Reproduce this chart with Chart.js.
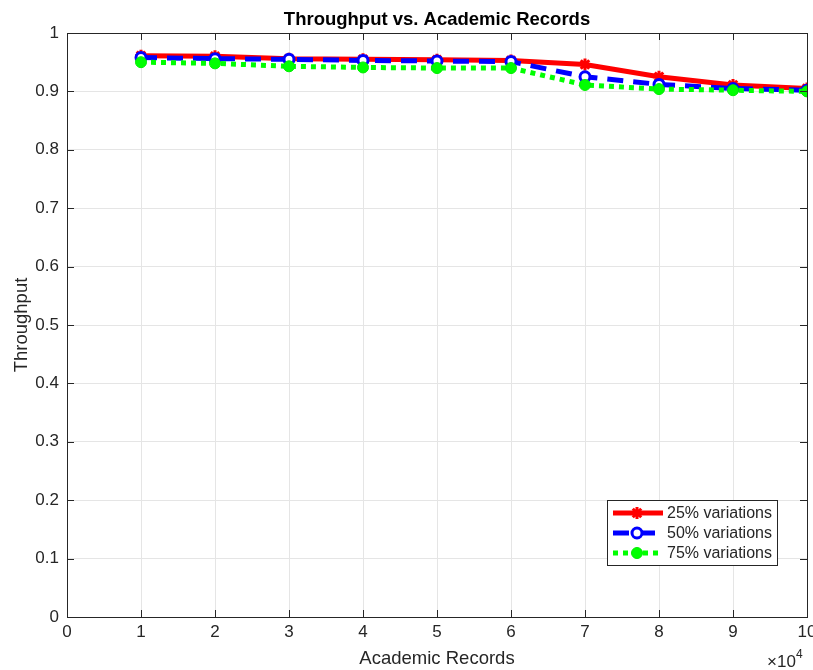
<!DOCTYPE html>
<html><head><meta charset="utf-8">
<script src="https://cdn.jsdelivr.net/npm/chart.js@4/dist/chart.umd.min.js"></script>
<style>html,body{margin:0;padding:0;background:#fff;overflow:hidden;}#wrap{width:813px;height:670px;position:relative;overflow:hidden;}</style>
</head><body><div id="wrap"><canvas id="c" width="816" height="670"></canvas></div>
<script>
const records = [1, 2, 3, 4, 5, 6, 7, 8, 9, 10];
const var25 = [0.961, 0.960, 0.956, 0.955, 0.954, 0.953, 0.946, 0.925, 0.911, 0.905];
const var50 = [0.958, 0.956, 0.955, 0.953, 0.952, 0.951, 0.925, 0.912, 0.905, 0.902];
const var75 = [0.950, 0.948, 0.943, 0.941, 0.940, 0.940, 0.911, 0.904, 0.902, 0.900];
const seriesNames = ['25% variations', '50% variations', '75% variations'];
const titleText = 'Throughput vs. Academic Records';
const xTitle = 'Academic Records';
const yTitle = 'Throughput';

const FONT = '"Liberation Sans", Arial, Helvetica, sans-serif';
const TXT = '#262626';

function pts(vals){ return records.map((x,i)=>({x:x, y:vals[i]})); }

const datasets = [
  {label: seriesNames[0], data: pts(var25), borderColor:'#ff0000', backgroundColor:'#ff0000', borderWidth:5,
   pointStyle:'star', pointRadius:6, pointBorderWidth:3, pointBorderColor:'#ff0000', pointBackgroundColor:'#ff0000', order:3},
  {label: seriesNames[1], data: pts(var50), borderColor:'#0000ff', backgroundColor:'#ffffff', borderWidth:5, borderDash:[16,10],
   pointStyle:'circle', pointRadius:5, pointBorderWidth:3, pointBorderColor:'#0000ff', pointBackgroundColor:'#ffffff', order:2},
  {label: seriesNames[2], data: pts(var75), borderColor:'#00ff00', backgroundColor:'#00ff00', borderWidth:5, borderDash:[5,5],
   pointStyle:'circle', pointRadius:5.5, pointBorderWidth:1, pointBorderColor:'#00ee00', pointBackgroundColor:'#00ff00', order:1}
];

function drawStar(ctx, x, y, r){
  ctx.beginPath();
  for (let k=0;k<4;k++){ const ang = k*Math.PI/4;
    ctx.moveTo(x - r*Math.cos(ang), y - r*Math.sin(ang));
    ctx.lineTo(x + r*Math.cos(ang), y + r*Math.sin(ang)); }
  ctx.stroke();
}

const deco = {
  id:'deco',
  afterDraw(chart){
    const ctx = chart.ctx, a = chart.chartArea;
    ctx.save();
    ctx.strokeStyle = '#262626'; ctx.lineWidth = 1; ctx.setLineDash([]);
    ctx.strokeRect(a.left+0.5, a.top+0.5, a.right-a.left, a.bottom-a.top);
    const xs = chart.scales.x, ys = chart.scales.y;
    ctx.beginPath();
    for (let v=0; v<=10; v++){ const px = Math.round(xs.getPixelForValue(v))+0.5;
      ctx.moveTo(px, a.bottom); ctx.lineTo(px, a.bottom-7); ctx.moveTo(px, a.top); ctx.lineTo(px, a.top+7); }
    for (let v=0; v<=10; v++){ const py = Math.round(ys.getPixelForValue(v/10))+0.5;
      ctx.moveTo(a.left, py); ctx.lineTo(a.left+7, py); ctx.moveTo(a.right, py); ctx.lineTo(a.right-7, py); }
    ctx.stroke();
    ctx.fillStyle = '#000'; ctx.font = 'bold 18.5px ' + FONT; ctx.textAlign='center'; ctx.textBaseline='middle';
    ctx.fillText(titleText, (a.left+a.right)/2, 20);
    ctx.fillStyle = TXT; ctx.font = '17px ' + FONT; ctx.textAlign='left'; ctx.textBaseline='alphabetic';
    ctx.fillText('\u00d710', 767, 667);
    ctx.font = '12px ' + FONT; ctx.fillText('4', 796, 658);
    const lx = 607, ly = 500, lw = 170, lh = 65;
    ctx.fillStyle = '#fff'; ctx.fillRect(lx, ly, lw, lh);
    ctx.strokeStyle = '#262626'; ctx.lineWidth = 1; ctx.strokeRect(lx+0.5, ly+0.5, lw, lh);
    chart.data.datasets.forEach((ds, i) => {
      const y = ly + 13 + i*20;
      ctx.strokeStyle = ds.borderColor; ctx.lineWidth = ds.borderWidth;
      ctx.setLineDash(ds.borderDash || []);
      ctx.beginPath(); ctx.moveTo(lx+6, y); ctx.lineTo(lx+56, y); ctx.stroke();
      ctx.setLineDash([]);
      ctx.fillStyle = ds.pointBackgroundColor; ctx.strokeStyle = ds.pointBorderColor; ctx.lineWidth = ds.pointBorderWidth;
      if (ds.pointStyle === 'circle') { ctx.beginPath(); ctx.arc(lx+30, y, ds.pointRadius, 0, Math.PI*2); ctx.fill(); ctx.stroke(); }
      else { drawStar(ctx, lx+30, y, ds.pointRadius); }
      ctx.fillStyle = TXT; ctx.font = '16px ' + FONT; ctx.textAlign='left'; ctx.textBaseline='middle';
      ctx.fillText(ds.label, lx+60, y+1);
    });
    ctx.restore();
  }
};

new Chart(document.getElementById('c'), {
  type:'line',
  data:{datasets},
  options:{
    responsive:false, animation:false, devicePixelRatio:1,
    layout:{padding:{left:0, right:0, top:33, bottom:0}},
    plugins:{legend:{display:false}, title:{display:false}, tooltip:{enabled:false}},
    elements:{line:{tension:0}},
    scales:{
      x:{type:'linear', min:0, max:10,
         ticks:{stepSize:1, color:TXT, font:{family:FONT, size:17}, padding:5, maxRotation:0, autoSkip:false},
         grid:{color:'#e5e5e5', drawTicks:false, lineWidth:1},
         border:{display:false},
         title:{display:true, text:xTitle, color:TXT, font:{family:FONT, size:18.5}, padding:{top:0, bottom:0}},
         afterFit(s){ s.height = 53; s.paddingLeft = 0; s.paddingRight = 0; }},
      y:{type:'linear', min:0, max:1,
         ticks:{stepSize:0.1, color:TXT, font:{family:FONT, size:17}, padding:8,
                callback:(v)=>String(Math.round(v*10)/10)},
         grid:{color:'#e5e5e5', drawTicks:false, lineWidth:1},
         border:{display:false},
         title:{display:true, text:yTitle, color:TXT, font:{family:FONT, size:18.5}, padding:{top:11, bottom:4}},
         afterFit(s){ s.width = 67; s.paddingTop = 0; s.paddingBottom = 0; }}
    }
  },
  plugins:[deco]
});
</script></body></html>
